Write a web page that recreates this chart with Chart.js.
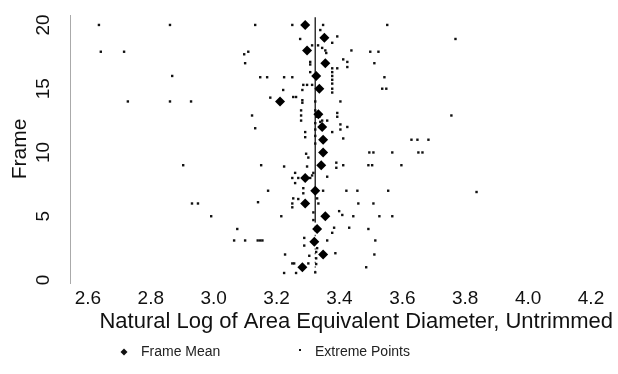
<!DOCTYPE html>
<html>
<head>
<meta charset="utf-8">
<script src="https://cdn.jsdelivr.net/npm/chart.js@4/dist/chart.umd.min.js"></script>
<style>
    html, body { margin: 0; padding: 0; background: #fff; }
    #wrap { width: 618px; height: 374px; position: relative; }
</style>
</head>
<body>
<div id="wrap"><canvas id="chart" width="618" height="374"></canvas></div>
<script>
// frame numbers and the mean log diameter of each frame
const frames = [1, 2, 3, 4, 5, 6, 7, 8, 9, 10, 11, 12, 13, 14, 15, 16, 17, 18, 19, 20];
const frameMeans = [3.282, 3.348, 3.320, 3.329, 3.355, 3.291, 3.323, 3.291, 3.342, 3.348,
    3.348, 3.345, 3.333, 3.211, 3.336, 3.326, 3.355, 3.297, 3.352, 3.291];

// extreme points (x = log diameter, y = frame position)
const extremeX = [
    2.635, 2.861, 3.132, 3.250, 3.348, 3.552,
    3.339, 3.393, 3.275, 3.769, 3.377, 3.313, 3.332, 3.345, 3.355, 3.438, 3.358,
    2.641, 2.715, 3.110, 3.498, 3.524, 3.097,
    3.100, 3.511, 3.307, 3.425, 3.307, 3.412, 3.425, 3.393, 3.377, 3.307, 3.377,
    3.377, 2.868, 3.377, 3.148, 3.170, 3.224, 3.250, 3.543,
    3.285, 3.297, 3.313, 3.377, 3.377, 3.536, 3.549, 3.377, 3.221, 3.282,
    3.180, 3.253, 3.262, 3.282, 3.282, 3.323, 3.403, 2.727, 2.861, 2.928,
    3.323, 3.278, 3.122, 3.278, 3.756, 3.278, 3.345, 3.361, 3.326, 3.336, 3.393, 3.393,
    3.132, 3.323, 3.323, 3.403, 3.403, 3.425, 3.291, 3.377, 3.339, 3.291, 3.412, 3.323, 3.323,
    3.629, 3.648, 3.683, 3.568, 3.651, 3.664, 3.495, 3.508, 3.294, 3.301,
    3.151, 3.412, 3.492, 3.504, 3.597, 2.903, 3.224, 3.297, 3.390, 3.390,
    3.317, 3.259, 3.313, 3.307, 3.250, 3.269, 3.259, 3.361,
    3.173, 3.348, 3.422, 3.457, 3.555, 3.285, 3.285, 3.836,
    3.141, 3.253, 3.329, 3.269, 3.250, 3.333, 3.460, 3.508, 2.931, 2.950, 3.250,
    3.215, 3.444, 3.527, 3.568, 2.992, 3.317, 3.317, 3.399, 3.409,
    3.075, 3.492, 3.383, 3.431, 3.377,
    3.065, 3.100, 3.140, 3.148, 3.155, 3.361, 3.514, 3.288, 3.288,
    3.329, 3.326, 3.387, 3.511, 3.227, 3.304, 3.326,
    3.250, 3.256, 3.301, 3.326, 3.485, 3.224, 3.262, 3.323
];
const extremeFrame = [
    20, 20, 20, 20, 20, 20,
    19.6, 19.1, 18.9, 18.9, 18.6, 18.4, 18.4, 18.2, 18.0, 18.0, 17.8,
    17.9, 17.9, 17.9, 17.9, 17.9, 17.7,
    17.0, 17.0, 17.1, 17.1, 16.9, 17.3, 16.7, 16.6, 16.6, 16.3, 16.3,
    16.0, 16.0, 15.7, 15.9, 15.9, 15.9, 15.9, 15.9,
    15.3, 15.3, 15.3, 15.4, 15.0, 15.0, 15.0, 14.7, 14.9, 14.9,
    14.3, 14.35, 14.35, 14.1, 13.9, 14.0, 14.0, 14.0, 14.0, 14.0,
    13.3, 13.3, 12.9, 12.9, 12.9, 12.5, 12.5, 12.5, 12.8, 12.8, 12.8, 13.1,
    11.9, 12.3, 11.8, 11.8, 12.2, 12.0, 11.6, 11.6, 12.4, 11.2, 11.1, 11.3, 10.7,
    11.0, 11.0, 11.0, 10.0, 10.0, 10.0, 10.0, 10.0, 9.9, 9.6,
    9.0, 9.0, 9.0, 9.0, 9.0, 9.0, 8.9, 8.9, 9.2, 8.8,
    8.4, 8.4, 8.2, 8.0, 8.0, 8.0, 7.6, 8.1,
    7.0, 7.0, 7.0, 7.0, 7.0, 7.2, 6.8, 6.9,
    6.1, 6.4, 6.4, 6.35, 6.0, 6.0, 6.0, 6.0, 6.0, 6.0, 5.7,
    5.0, 5.0, 5.0, 5.0, 5.0, 5.3, 4.7, 5.4, 5.1,
    4.0, 4.0, 4.1, 4.1, 3.7,
    3.1, 3.1, 3.1, 3.1, 3.1, 3.1, 3.1, 3.3, 2.7,
    2.5, 2.2, 2.1, 2.0, 2.0, 1.9, 1.7,
    1.3, 1.3, 1.3, 1.25, 1.0, 0.55, 0.55, 0.6
];

// overall mean line (solid upper part, dotted lower part)
const grandMean = 3.323;
const meanLineSolid = [4.5, 20.6];
const meanLineDotted = [0.6, 4.5];

const xTickValues = [2.6, 2.8, 3.0, 3.2, 3.4, 3.6, 3.8, 4.0, 4.2];
const yTickValues = [0, 5, 10, 15, 20];

const FONT = "'Liberation Sans', Arial, sans-serif";

// legend drawn under the chart at R-like positions
const bottomLegend = {
    id: 'bottomLegend',
    afterDraw(chart) {
        const ctx = chart.ctx;
        const ds = chart.data.datasets;
        ctx.save();
        ctx.fillStyle = '#111';
        // diamond for frame mean
        ctx.beginPath();
        ctx.moveTo(124, 348.5); ctx.lineTo(127.5, 352); ctx.lineTo(124, 355.5); ctx.lineTo(120.5, 352);
        ctx.closePath();
        ctx.fill();
        // dot for extreme points
        ctx.fillRect(299, 349, 2, 2);
        ctx.font = '14px ' + FONT;
        ctx.textBaseline = 'middle';
        ctx.fillStyle = '#222';
        ctx.fillText(ds[0].label, 141, 352);
        ctx.fillText(ds[1].label, 315, 352);
        ctx.restore();
    }
};

const ctx = document.getElementById('chart').getContext('2d');
new Chart(ctx, {
    type: 'scatter',
    data: {
        datasets: [
            {
                label: 'Frame Mean',
                data: frames.map((f, i) => ({ x: frameMeans[i], y: f })),
                pointStyle: 'rectRot',
                pointRadius: 5,
                backgroundColor: '#000',
                borderColor: '#000',
                borderWidth: 0,
                order: 1
            },
            {
                label: 'Extreme Points',
                data: extremeX.map((x, i) => ({ x, y: extremeFrame[i] })),
                pointStyle: 'rect',
                pointRadius: 1.7,
                backgroundColor: '#111',
                borderWidth: 0,
                order: 2
            },
            {
                type: 'line',
                label: 'mean',
                data: meanLineSolid.map(f => ({ x: grandMean, y: f })),
                borderColor: '#333',
                borderWidth: 1.5,
                pointRadius: 0,
                order: 3
            },
            {
                type: 'line',
                label: 'mean lower',
                data: meanLineDotted.map(f => ({ x: grandMean, y: f })),
                borderColor: '#555',
                borderWidth: 1.3,
                borderDash: [1.5, 3],
                pointRadius: 0,
                order: 3
            }
        ]
    },
    options: {
        responsive: false,
        animation: false,
        layout: { padding: { top: 15, right: 0, bottom: 39, left: 0 } },
        plugins: {
            legend: { display: false },
            tooltip: { enabled: false }
        },
        scales: {
            x: {
                type: 'linear',
                min: 2.543,
                max: 4.27,
                grid: { display: false, drawTicks: false },
                border: { display: false },
                afterBuildTicks: s => { s.ticks = xTickValues.map(v => ({ value: v })); },
                afterFit: s => { s.height = 52; s.paddingLeft = 0; s.paddingRight = 0; },
                ticks: {
                    padding: 4,
                    color: '#111',
                    font: { family: FONT, size: 19 },
                    callback: v => v.toFixed(1)
                },
                title: {
                    display: true,
                    align: 'end',
                    text: 'Natural Log of Area Equivalent Diameter, Untrimmed',
                    color: '#111',
                    font: { family: FONT, size: 22 },
                    padding: { top: 0, bottom: 0 }
                }
            },
            y: {
                type: 'linear',
                min: -0.235,
                max: 20.78,
                grid: { display: false, drawTicks: false },
                border: { display: true, color: '#aaa', dash: [1, 10], width: 1 },
                afterBuildTicks: s => { s.ticks = yTickValues.map(v => ({ value: v })); },
                afterFit: s => { s.width = 70; s.paddingTop = 0; s.paddingBottom = 0; },
                ticks: {
                    padding: 16,
                    minRotation: 90,
                    maxRotation: 90,
                    crossAlign: 'center',
                    color: '#111',
                    font: { family: FONT, size: 19 },
                    callback: v => String(v)
                },
                title: {
                    display: true,
                    text: 'Frame',
                    color: '#111',
                    font: { family: FONT, size: 21 },
                    padding: { top: 8, bottom: 0 }
                }
            }
        }
    },
    plugins: [bottomLegend]
});
</script>
</body>
</html>
